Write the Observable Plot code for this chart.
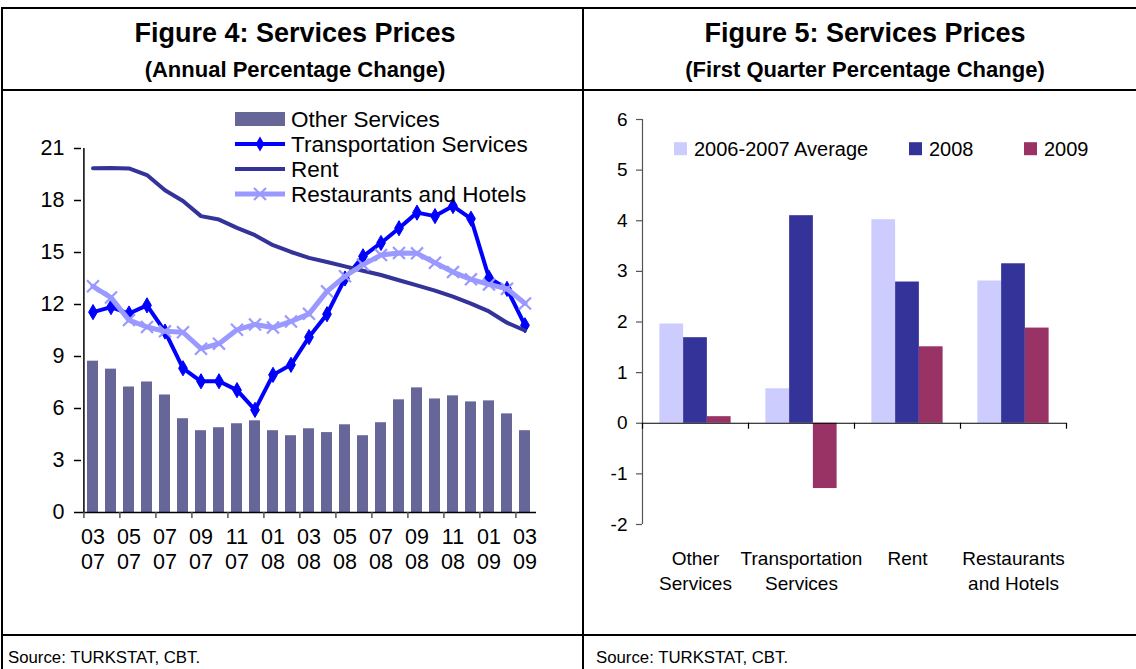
<!DOCTYPE html>
<html><head><meta charset="utf-8">
<script src="https://cdn.jsdelivr.net/npm/d3@7"></script>
<script src="https://cdn.jsdelivr.net/npm/@observablehq/plot@0.6"></script>
<style>
body{margin:0;background:#fff;font-family:"Liberation Sans",Arial,sans-serif;color:#000;}
#page{position:relative;width:1136px;height:669px;overflow:hidden;background:#fff;}
.ln{position:absolute;background:#000;}
.t{position:absolute;white-space:nowrap;transform:translateX(-50%);font-weight:bold;line-height:1;}
.src{position:absolute;font-size:16.8px;line-height:1;white-space:nowrap;}
.abs{position:absolute;}
</style>
</head><body>
<div id="page">
  <div class="t" style="left:295px;top:20px;font-size:27px;">Figure 4: Services Prices</div>
  <div class="t" style="left:295px;top:59px;font-size:22px;">(Annual Percentage Change)</div>
  <div class="t" style="left:865px;top:20px;font-size:27px;">Figure 5: Services Prices</div>
  <div class="t" style="left:865px;top:59px;font-size:22px;">(First Quarter Percentage Change)</div>
  <div id="left" class="abs" style="left:2px;top:91px;"></div>
  <div id="right" class="abs" style="left:585px;top:91px;"></div>
  <div id="legL" class="abs" style="left:230px;top:105px;"></div>
  <div id="legR" class="abs" style="left:660px;top:130px;"></div>
  <div class="src" style="left:8px;top:650px;">Source: TURKSTAT, CBT.</div>
  <div class="src" style="left:596px;top:650px;">Source: TURKSTAT, CBT.</div>
  <div class="ln" style="left:1px;top:7px;width:1135px;height:2px;"></div>
  <div class="ln" style="left:1px;top:7px;width:2px;height:662px;"></div>
  <div class="ln" style="left:582px;top:7px;width:2px;height:662px;"></div>
  <div class="ln" style="left:1px;top:89px;width:1135px;height:2px;"></div>
  <div class="ln" style="left:1px;top:634px;width:1135px;height:2px;"></div>
</div>
<script>
// ---------- Figure 4 data ----------
const months = ["03 07","04 07","05 07","06 07","07 07","08 07","09 07","10 07","11 07","12 07",
  "01 08","02 08","03 08","04 08","05 08","06 08","07 08","08 08","09 08","10 08","11 08","12 08",
  "01 09","02 09","03 09"];
const otherServices = [8.73,8.27,7.24,7.53,6.78,5.41,4.72,4.89,5.12,5.29,4.72,4.43,4.83,4.61,5.06,4.43,5.18,6.50,7.19,6.55,6.73,6.38,6.44,5.69,4.72];
const transportation = [11.56,11.85,11.48,11.95,10.44,8.32,7.57,7.57,7.06,5.92,7.94,8.52,10.12,11.44,13.5,14.78,15.55,16.4,17.3,17.1,17.68,16.95,13.54,12.9,10.8];
const rent = [19.86,19.88,19.85,19.47,18.59,17.97,17.1,16.9,16.42,16.0,15.42,15.03,14.69,14.45,14.2,13.95,13.7,13.4,13.1,12.8,12.45,12.05,11.6,10.95,10.5];
const restaurants = [13.05,12.4,11.1,10.7,10.45,10.4,9.45,9.74,10.54,10.85,10.67,11.02,11.46,12.76,13.63,14.3,14.85,14.97,14.95,14.41,13.87,13.45,13.16,12.91,12.06];
const yTicksL = [0,3,6,9,12,15,18,21];
const seriesL = ["Other Services","Transportation Services","Rent","Restaurants and Hotels"];

// ---------- Figure 5 data ----------
const categories = ["Other Services","Transportation Services","Rent","Restaurants and Hotels"];
const categoryLabels = ["Other\nServices","Transportation\nServices","Rent","Restaurants\nand Hotels"];
const seriesR = ["2006-2007 Average","2008","2009"];
const avg0607 = [1.96,0.68,4.02,2.81];
const v2008 = [1.69,4.10,2.79,3.15];
const v2009 = [0.13,-1.29,1.51,1.88];
const yTicksR = [-2,-1,0,1,2,3,4,5,6];

const FONT = "'Liberation Sans', Arial, sans-serif";
const cOther = "#666699", cTrans = "#0000FF", cRent = "#333399", cRest = "#9999FF";
const colorsR = ["#CCCCFF","#333399","#993366"];

// ---------- Left chart ----------
const W1 = 581, H1 = 543, mL1 = 79, mR1 = 47, mT1 = 57, mB1 = 122;
const step1 = (W1 - mL1 - mR1) / months.length;
const rowsL = months.map((m, i) => ({m, other: otherServices[i], trans: transportation[i], rent: rent[i], rest: restaurants[i]}));
const evenMonths = months.filter((d, i) => i % 2 === 0);

const left = Plot.plot({
  width: W1, height: H1, marginLeft: mL1, marginRight: mR1, marginTop: mT1, marginBottom: mB1,
  style: {fontFamily: FONT, fontSize: "21.5px", color: "#000", background: "transparent", overflow: "visible"},
  x: {domain: months, paddingInner: 0.4, paddingOuter: 0.2, axis: null, label: null},
  y: {domain: [0, 21], axis: null, label: null},
  marks: [
    Plot.barY(rowsL, {x: "m", y: "other", fill: cOther, inset: 0}),
    Plot.ruleY([0], {stroke: "#000", strokeWidth: 1.5}),
    Plot.ruleX([months[0]], {y1: 0, y2: 21, dx: -step1 / 2, stroke: "#000", strokeWidth: 1.5}),
    Plot.axisY({ticks: yTicksL, tickSize: 7, tickPadding: 10, label: null, tickFormat: d => String(d), strokeWidth: 1.5}),
    Plot.axisX({ticks: evenMonths, tickSize: 6, dx: -step1 / 2, label: null, tickFormat: () => "", stroke: "#555", strokeWidth: 1.5}),
    Plot.axisX({ticks: evenMonths, tickSize: 0, tickPadding: 14, label: null, lineHeight: 1.16, tickFormat: d => d.replace(" ", "\n")}),
    Plot.line(rowsL, {x: "m", y: "trans", stroke: cTrans, strokeWidth: 4}),
    Plot.dot(rowsL, {x: "m", y: "trans", symbol: "diamond", r: 4.6, fill: cTrans, stroke: cTrans, strokeWidth: 1}),
    Plot.line(rowsL, {x: "m", y: "rent", stroke: cRent, strokeWidth: 4}),
    Plot.line(rowsL, {x: "m", y: "rest", stroke: cRest, strokeWidth: 5}),
    Plot.dot(rowsL, {x: "m", y: "rest", symbol: "times", r: 5.5, stroke: cRest, strokeWidth: 2.2})
  ]
});
document.getElementById("left").append(left);

// Left legend
(function() {
  const svg = d3.create("svg").attr("width", 340).attr("height", 100)
    .style("font-family", FONT).style("font-size", "22.5px").style("overflow", "visible");
  const rowsY = [14, 39, 64, 89];
  const g = svg.append("g");
  g.append("rect").attr("x", 5).attr("y", rowsY[0] - 7).attr("width", 50).attr("height", 14).attr("fill", cOther);
  g.append("line").attr("x1", 5).attr("x2", 55).attr("y1", rowsY[1]).attr("y2", rowsY[1]).attr("stroke", cTrans).attr("stroke-width", 4);
  g.append("path").attr("d", d3.symbol(d3.symbolDiamond, Math.PI * 4.6 * 4.6)()).attr("transform", `translate(30,${rowsY[1]})`).attr("fill", cTrans);
  g.append("line").attr("x1", 5).attr("x2", 55).attr("y1", rowsY[2]).attr("y2", rowsY[2]).attr("stroke", cRent).attr("stroke-width", 4);
  g.append("line").attr("x1", 5).attr("x2", 55).attr("y1", rowsY[3]).attr("y2", rowsY[3]).attr("stroke", cRest).attr("stroke-width", 5);
  g.append("path").attr("d", d3.symbol(d3.symbolTimes, Math.PI * 5.5 * 5.5)()).attr("transform", `translate(30,${rowsY[3]})`).attr("fill", "none").attr("stroke", cRest).attr("stroke-width", 2.2);
  seriesL.forEach((s, i) => {
    g.append("text").attr("x", 61).attr("y", rowsY[i]).attr("dy", "0.36em").text(s);
  });
  document.getElementById("legL").append(svg.node());
})();

// ---------- Right chart ----------
const W2 = 549, H2 = 543, mL2 = 57, mR2 = 68, mT2 = 28, mB2 = 110;
const step2 = (W2 - mL2 - mR2) / categories.length;
const pxPerUnit = (H2 - mT2 - mB2) / (yTicksR[yTicksR.length - 1] - yTicksR[0]);
const barFrac = 0.224;
const seriesValues = [avg0607, v2008, v2009];
const rowsR = seriesR.map((s, si) => categories.map((c, ci) => ({cat: c, series: s, value: seriesValues[si][ci]})));

const barMarks = seriesR.map((s, si) => {
  const insetLeft = step2 * ((1 - 3 * barFrac) / 2 + si * barFrac);
  const insetRight = step2 - insetLeft - step2 * barFrac;
  return Plot.barY(rowsR[si], {x: "cat", y: "value", fill: colorsR[si], insetLeft, insetRight});
});

const right = Plot.plot({
  width: W2, height: H2, marginLeft: mL2, marginRight: mR2, marginTop: mT2, marginBottom: mB2,
  style: {fontFamily: FONT, fontSize: "19px", color: "#000", background: "transparent", overflow: "visible"},
  x: {domain: categories, padding: 0, axis: null, label: null},
  y: {domain: [yTicksR[0], yTicksR[yTicksR.length - 1]], axis: null, label: null},
  marks: [
    ...barMarks,
    Plot.ruleY([0], {stroke: "#000", strokeWidth: 1.2}),
    Plot.ruleX([categories[0]], {y1: yTicksR[0], y2: yTicksR[yTicksR.length - 1], dx: -step2 / 2, stroke: "#555", strokeWidth: 1.2}),
    Plot.axisY({ticks: yTicksR, tickSize: 6, tickPadding: 9, label: null, tickFormat: d => String(d), stroke: "#555", strokeWidth: 1.2}),
    Plot.axisX({ticks: categories, tickSize: 6, dx: -step2 / 2, dy: -2 * pxPerUnit, label: null, tickFormat: () => "", strokeWidth: 1.2}),
    Plot.axisX({ticks: [categories[categories.length - 1]], tickSize: 6, dx: step2 / 2, dy: -2 * pxPerUnit, label: null, tickFormat: () => "", strokeWidth: 1.2}),
    Plot.axisX({ticks: categories, tickSize: 0, tickPadding: 23, lineHeight: 1.32, label: null, tickFormat: d => categoryLabels[categories.indexOf(d)]})
  ]
});
document.getElementById("right").append(right);

// Right legend
(function() {
  const svg = d3.create("svg").attr("width", 470).attr("height", 40)
    .style("font-family", FONT).style("font-size", "20px").style("overflow", "visible");
  const xs = [14, 249, 364];
  const cy = 18.7;
  seriesR.forEach((s, i) => {
    svg.append("rect").attr("x", xs[i]).attr("y", cy - 6.5).attr("width", 13).attr("height", 13).attr("fill", colorsR[i]);
    svg.append("text").attr("x", xs[i] + 20).attr("y", cy).attr("dy", "0.36em").text(s);
  });
  document.getElementById("legR").append(svg.node());
})();
</script>
</body></html>
